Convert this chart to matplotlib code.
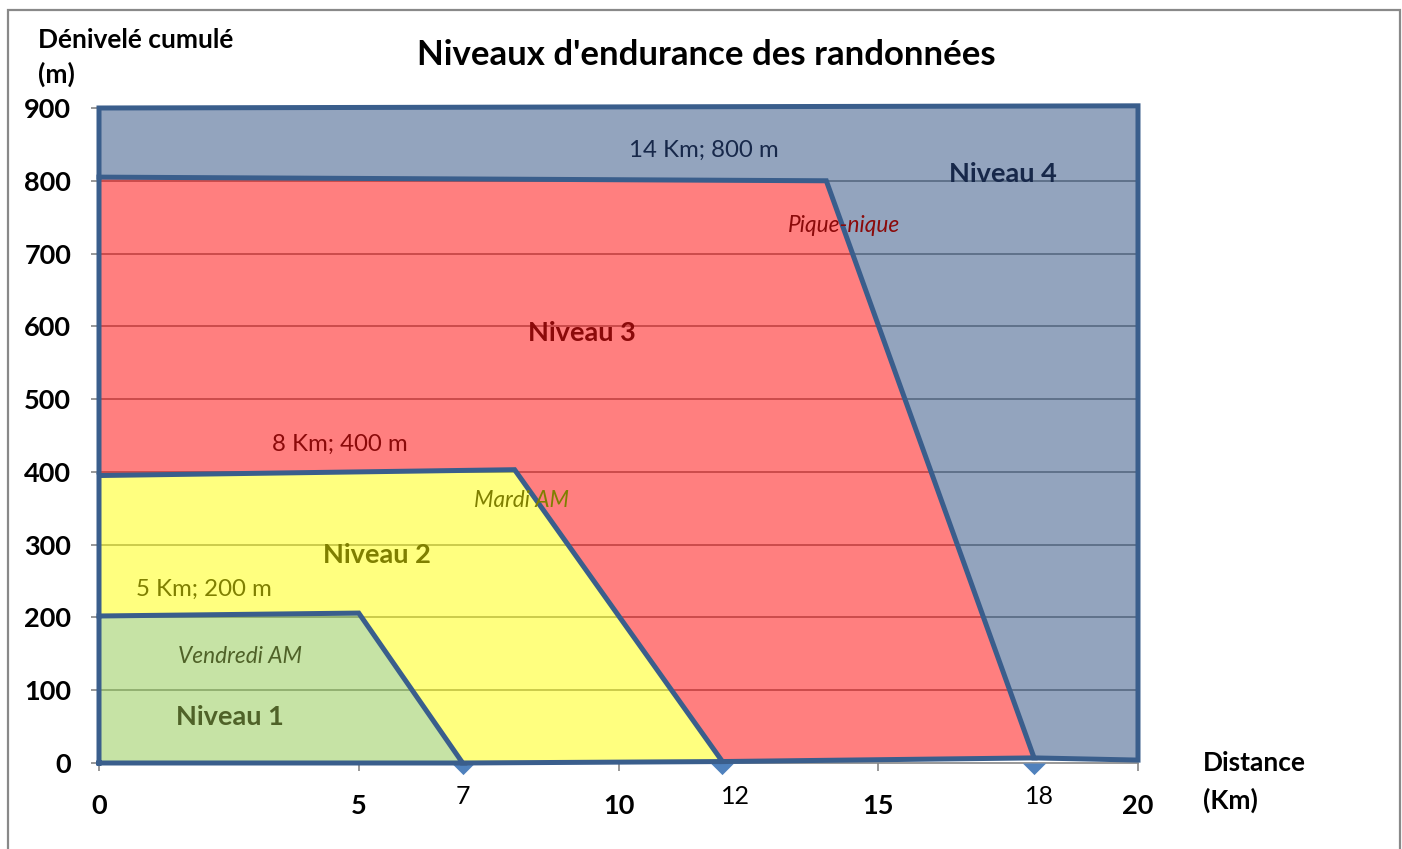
import matplotlib
matplotlib.use("Agg")
import matplotlib.pyplot as plt
import numpy as np
from matplotlib.patches import Polygon, Rectangle
from matplotlib.path import Path

plt.rcParams['font.family'] = ['Lato', 'DejaVu Sans']

# ---- data ----
levels = ["Niveau 1", "Niveau 2", "Niveau 3", "Niveau 4"]
# outline of each level (km, m)
lvl1_x = [0, 0, 5, 7, 0]
lvl1_y = [0, 202, 206, 0, 0]
lvl2_x = [0, 0, 8, 12, 7]
lvl2_y = [202, 395, 403, 2, 0]
lvl3_x = [0, 0, 14, 18, 12]
lvl3_y = [400, 805, 800, 7, 2]
lvl4_x = [0, 0, 20, 20, 18]
lvl4_y = [805, 900, 903, 4, 7]

point_labels = ["5 Km; 200 m", "8 Km; 400 m", "14 Km; 800 m"]
point_label_x = [2.02, 4.64, 11.65]
point_label_y = [239, 438, 842]
stop_labels = ["Vendredi AM", "Mardi AM", "Pique-nique"]
stop_x = [2.71, 8.14, 14.34]
stop_y = [146, 361, 738]
level_label_x = [2.52, 5.35, 9.30, 17.40]
level_label_y = [63, 286, 591, 809]
end_km = [7, 12, 18]
end_label_x = [7.0, 12.25, 18.1]
x_ticks = [0, 5, 10, 15, 20]
y_ticks = [0, 100, 200, 300, 400, 500, 600, 700, 800, 900]

fill_colors = ["#8EC84C", "#FFFF00", "#FF0000", "#284B7E"]
text_colors = ["#4F6228", "#7F7F00", "#8B0A0A", "#17284A"]
line_color = "#3A5E8C"
grid_color = "#868686"

W, H = 1402, 849
fig = plt.figure(figsize=(W / 100, H / 100), dpi=100)
ax = fig.add_axes([99 / W, 1 - 763 / H, (1138 - 99) / W, (763 - 108) / H])
ax.set_xlim(0, 20)
ax.set_ylim(0, 900)

# grid
for yv in y_ticks[1:-1]:
    ax.axhline(yv, color=grid_color, lw=1.2, zorder=1)

# fills (non-overlapping regions)
outlines = [(lvl1_x, lvl1_y), (lvl2_x, lvl2_y), (lvl3_x, lvl3_y), (lvl4_x, lvl4_y)]
for i, (xs, ys) in enumerate(outlines):
    pts = list(zip(xs, ys))
    if i == 1:
        pts = pts + [(lvl1_x[2], lvl1_y[2])]
    elif i == 2:
        pts = pts + [(lvl2_x[2], lvl2_y[2]), (lvl2_x[1], lvl2_y[1])]
    elif i == 3:
        pts = pts + [(lvl3_x[2], lvl3_y[2])]
    ax.add_patch(Polygon(pts, closed=True, facecolor=fill_colors[i], alpha=0.5,
                         edgecolor='none', zorder=2))

# markers at end points (downward half-diamond)
half_diamond = Path([(-1, 0), (1, 0), (0, -1), (-1, 0)],
                    [Path.MOVETO, Path.LINETO, Path.LINETO, Path.CLOSEPOLY])
ax.scatter(end_km, [0] * len(end_km), marker=half_diamond, s=280, color="#4F81BD",
           zorder=3, clip_on=False, linewidths=0)

# outlines
for xs, ys in outlines:
    ax.plot(xs, ys, color=line_color, lw=3.6, solid_joinstyle='miter', zorder=4, clip_on=False)

# texts
for i, lab in enumerate(levels):
    ax.text(level_label_x[i], level_label_y[i], lab, ha='center', va='center',
            fontsize=19.5, fontweight='bold', color=text_colors[i], zorder=5)
for i, lab in enumerate(point_labels):
    ax.text(point_label_x[i], point_label_y[i], lab, ha='center', va='center',
            fontsize=17.3, color=text_colors[i + 1], zorder=5)
for i, lab in enumerate(stop_labels):
    ax.text(stop_x[i], stop_y[i], lab, ha='center', va='center',
            fontsize=16.3, style='italic', color=text_colors[i], zorder=5)

# axes styling
for s in ['top', 'right']:
    ax.spines[s].set_visible(False)
for s in ['left', 'bottom']:
    ax.spines[s].set_color(grid_color)
    ax.spines[s].set_linewidth(1.2)
ax.set_xticks(x_ticks)
ax.set_yticks(y_ticks)
ax.set_xticklabels([str(v) for v in x_ticks], fontsize=19.5, fontweight='bold')
ax.set_yticklabels([str(v) for v in y_ticks], fontsize=19.5, fontweight='bold')
ax.tick_params(axis='both', direction='out', length=6, color=grid_color, width=1.2)
ax.tick_params(axis='x', pad=16)
ax.tick_params(axis='y', pad=14)

for v, lx in zip(end_km, end_label_x):
    ax.text(lx, -46, str(v), ha='center', va='center', fontsize=18, color='black')

fig.text(706 / W, 1 - 55 / H, "Niveaux d'endurance des randonnées", ha='center', va='center',
         fontsize=25, fontweight='bold')
fig.text(38 / W, 1 - 40 / H, "Dénivelé cumulé", ha='left', va='center', fontsize=19, fontweight='bold')
fig.text(38 / W, 1 - 74 / H, "(m)", ha='left', va='center', fontsize=19, fontweight='bold')
fig.text(1203 / W, 1 - 763 / H, "Distance", ha='left', va='center', fontsize=19, fontweight='bold')
fig.text(1203 / W, 1 - 800 / H, "(Km)", ha='left', va='center', fontsize=19, fontweight='bold')

fig.patches.append(Rectangle((8 / W, -0.05), (1400 - 8) / W, (849 - 10) / H + 0.05,
                             transform=fig.transFigure, fill=False, edgecolor='#898989', lw=1.6))

fig.savefig("out.png", dpi=100)
